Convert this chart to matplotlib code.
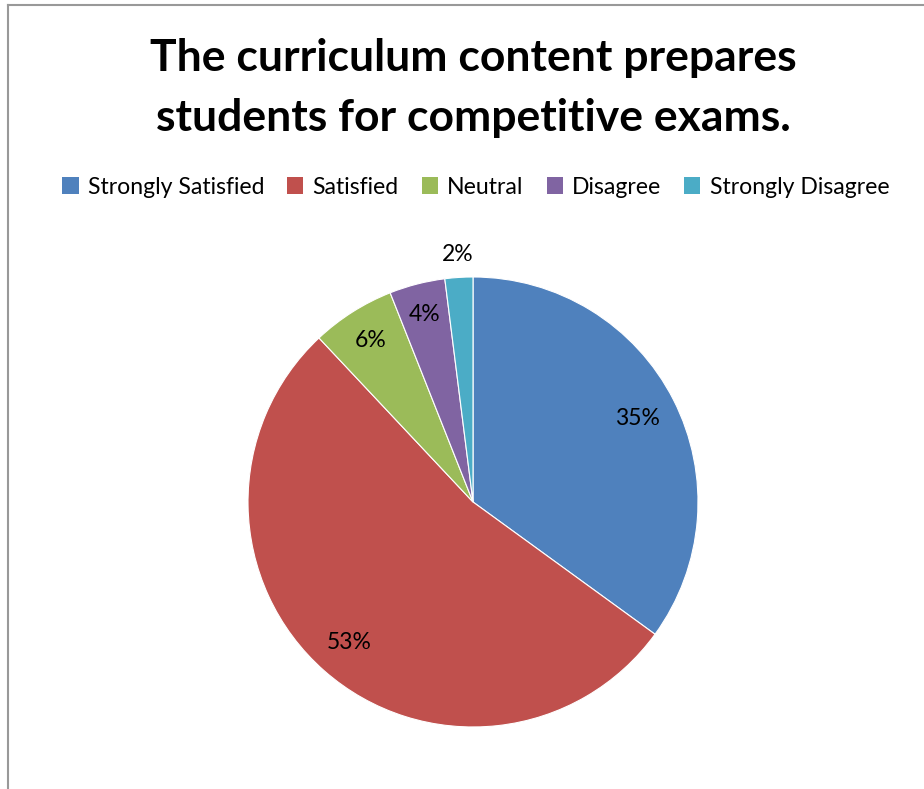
import numpy as np
import matplotlib.pyplot as plt
from matplotlib.lines import Line2D
from matplotlib.patches import Patch

# data
categories = ['Strongly Satisfied', 'Satisfied', 'Neutral', 'Disagree', 'Strongly Disagree']
shares = [35, 53, 6, 4, 2]
colors = ['#4F81BD', '#C0504D', '#9BBB59', '#8064A2', '#4BACC6']
title = 'The curriculum content prepares\nstudents for competitive exams.'

FONT = 'Lato'
label_dist = [0.82, 0.83, 0.85, 0.86, 1.10]  # where each % label sits

fig = plt.figure(figsize=(9.24, 7.89), dpi=100)

# chart border (grey, left and top only visible)
fig.add_artist(Line2D([8/924, 8/924], [0, 1 - 5/789], transform=fig.transFigure, color='#999999', lw=1.5))
fig.add_artist(Line2D([8/924, 1], [1 - 5/789, 1 - 5/789], transform=fig.transFigure, color='#999999', lw=1.5))

ax = fig.add_axes([0.2684, 0.0786, 450/924, 450/789])
wedges, _ = ax.pie(shares, colors=colors, startangle=90, counterclock=False,
                   wedgeprops=dict(edgecolor='white', linewidth=0.8))
ax.set_xlim(-1, 1)
ax.set_ylim(-1, 1)
ax.set_aspect('equal')
ax.axis('off')

for w, v, d in zip(wedges, shares, label_dist):
    ang = np.deg2rad((w.theta1 + w.theta2) / 2)
    ax.text(d * np.cos(ang), d * np.sin(ang), f'{v}%', ha='center', va='center',
            fontsize=16.5, family=FONT, color='black')

fig.text(0.512, 1 - 88/789, title, ha='center', va='center', fontsize=32,
         fontweight='bold', family=FONT, linespacing=1.6)

handles = [Patch(facecolor=c, edgecolor='none') for c in colors]
fig.legend(handles, categories, loc='center', bbox_to_anchor=(0.515, 1 - 187/789),
           ncol=5, frameon=False, prop=dict(family=FONT, size=16.6),
           handlelength=0.7, handleheight=0.7, handletextpad=0.4, columnspacing=1.0)

fig.savefig('out.png', dpi=100, facecolor='white')
